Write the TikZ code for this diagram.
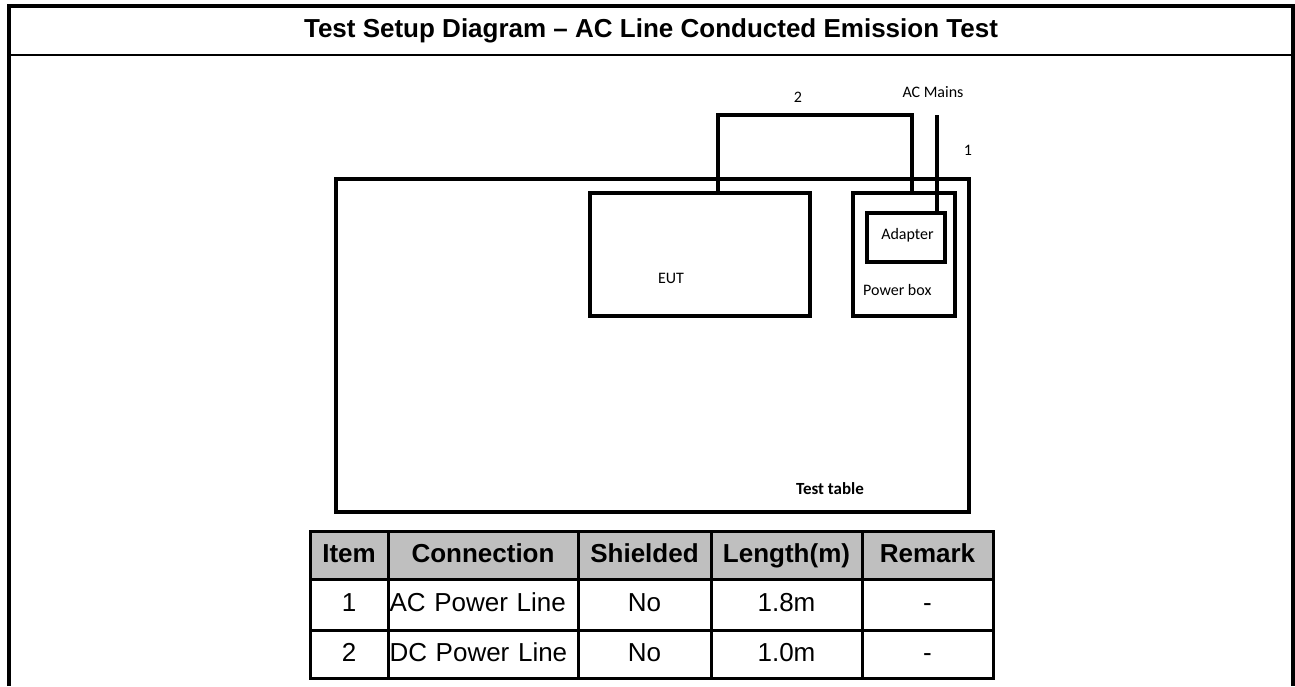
\documentclass[tikz,border=0pt]{standalone}
\usepackage{fontspec}
\setmainfont{Liberation Sans}
\newfontfamily\diagfont{Carlito}
\usetikzlibrary{positioning,calc}
\tikzset{
  framebox/.style={draw, line width=4.5pt, inner sep=0pt, outer sep=0pt},
  cable/.style={line width=4pt},
  tag/.style={font=\diagfont\fontsize{16}{19}\selectfont, inner sep=0pt},
  headcell/.style={draw, line width=3pt, fill=black!25, minimum height=48pt,
                   inner sep=0pt, outer sep=0pt, text height=19pt, text depth=5pt,
                   font=\bfseries\fontsize{26}{30}\selectfont},
  datacell/.style={draw, line width=3pt, inner sep=0pt, outer sep=0pt,
                   text height=19pt, text depth=5pt,
                   font=\fontsize{26}{30}\selectfont}
}
\begin{document}
\begin{tikzpicture}[x=1pt,y=1pt]
    \useasboundingbox (0,0) rectangle (1295,-686);

    % Outer frame and title
    \draw[line width=4pt] (9,-686) -- (9,-6) -- (1293,-6) -- (1293,-686);
    \draw[line width=2.5pt] (9,-55) -- (1293,-55);
    \node[font=\bfseries\fontsize{26}{30}\selectfont] (title) at (651,-31)
      {Test Setup Diagram – AC Line Conducted Emission Test};

    % Test table
    \node[framebox, minimum width=633pt, minimum height=333pt] (table) at (652.5,-345.5) {};
    \node[tag, font=\diagfont\bfseries\fontsize{17}{20}\selectfont] (tablelbl) at (830,-489) {Test table};

    % EUT
    \node[framebox, line width=4pt, minimum width=220pt, minimum height=123pt] (eut) at (700,-254.5) {};
    \node[tag] (eutlbl) at (671,-278) {EUT};

    % Power box and adapter
    \node[framebox, line width=4pt, minimum width=102pt, minimum height=123pt] (pbox) at (904,-254.5) {};
    \node[tag, anchor=west] (pboxlbl) at (863,-290) {Power box};
    \node[framebox, line width=4pt, minimum width=78pt, minimum height=49pt] (adapter) at (906,-237.5) {};
    \node[tag] (adapterlbl) at (907.5,-235) {Adapter};

    % Cables
    \coordinate (c2a) at (718,-115);
    \coordinate (c2b) at (912,-115);
    \coordinate (mains) at (937,-115);
    \draw[cable] (eut.north -| c2a) -- (c2a) -- (c2b) -- (pbox.north -| c2b);
    \draw[cable] (mains) -- (mains |- adapter.north);
    \node[tag] (lbl2) at (798,-97) {2};
    \node[tag] (mainslbl) at (933,-92) {AC Mains};
    \node[tag] (lbl1) at (968,-150) {1};

    % Cable list
    \foreach \x/\w/\t [count=\i] in {349/78/Item, 483/190/Connection,
        644.5/133/Shielded, 786.5/151/Length(m), 927.5/131/Remark}
      \node[headcell, minimum width=\w pt] (h\i) at (\x,-555) {\t};

    \foreach \y/\h/\n/\c/\l in {-604.5/51/1/AC Power Line/1.8m,
        -654/48/2/DC Power Line/1.0m} {
      \node[datacell, minimum width=78pt, minimum height=\h pt] (n\n) at (349,\y) {\n};
      \node[datacell, minimum width=190pt, minimum height=\h pt,
            text width=187pt, align=left] (c\n) at (483,\y) {\c};
      \node[datacell, minimum width=133pt, minimum height=\h pt] (s\n) at (644.5,\y) {No};
      \node[datacell, minimum width=151pt, minimum height=\h pt] (l\n) at (786.5,\y) {\l};
      \node[datacell, minimum width=131pt, minimum height=\h pt] (r\n) at (927.5,\y) {-};
    }
\end{tikzpicture}
\end{document}
